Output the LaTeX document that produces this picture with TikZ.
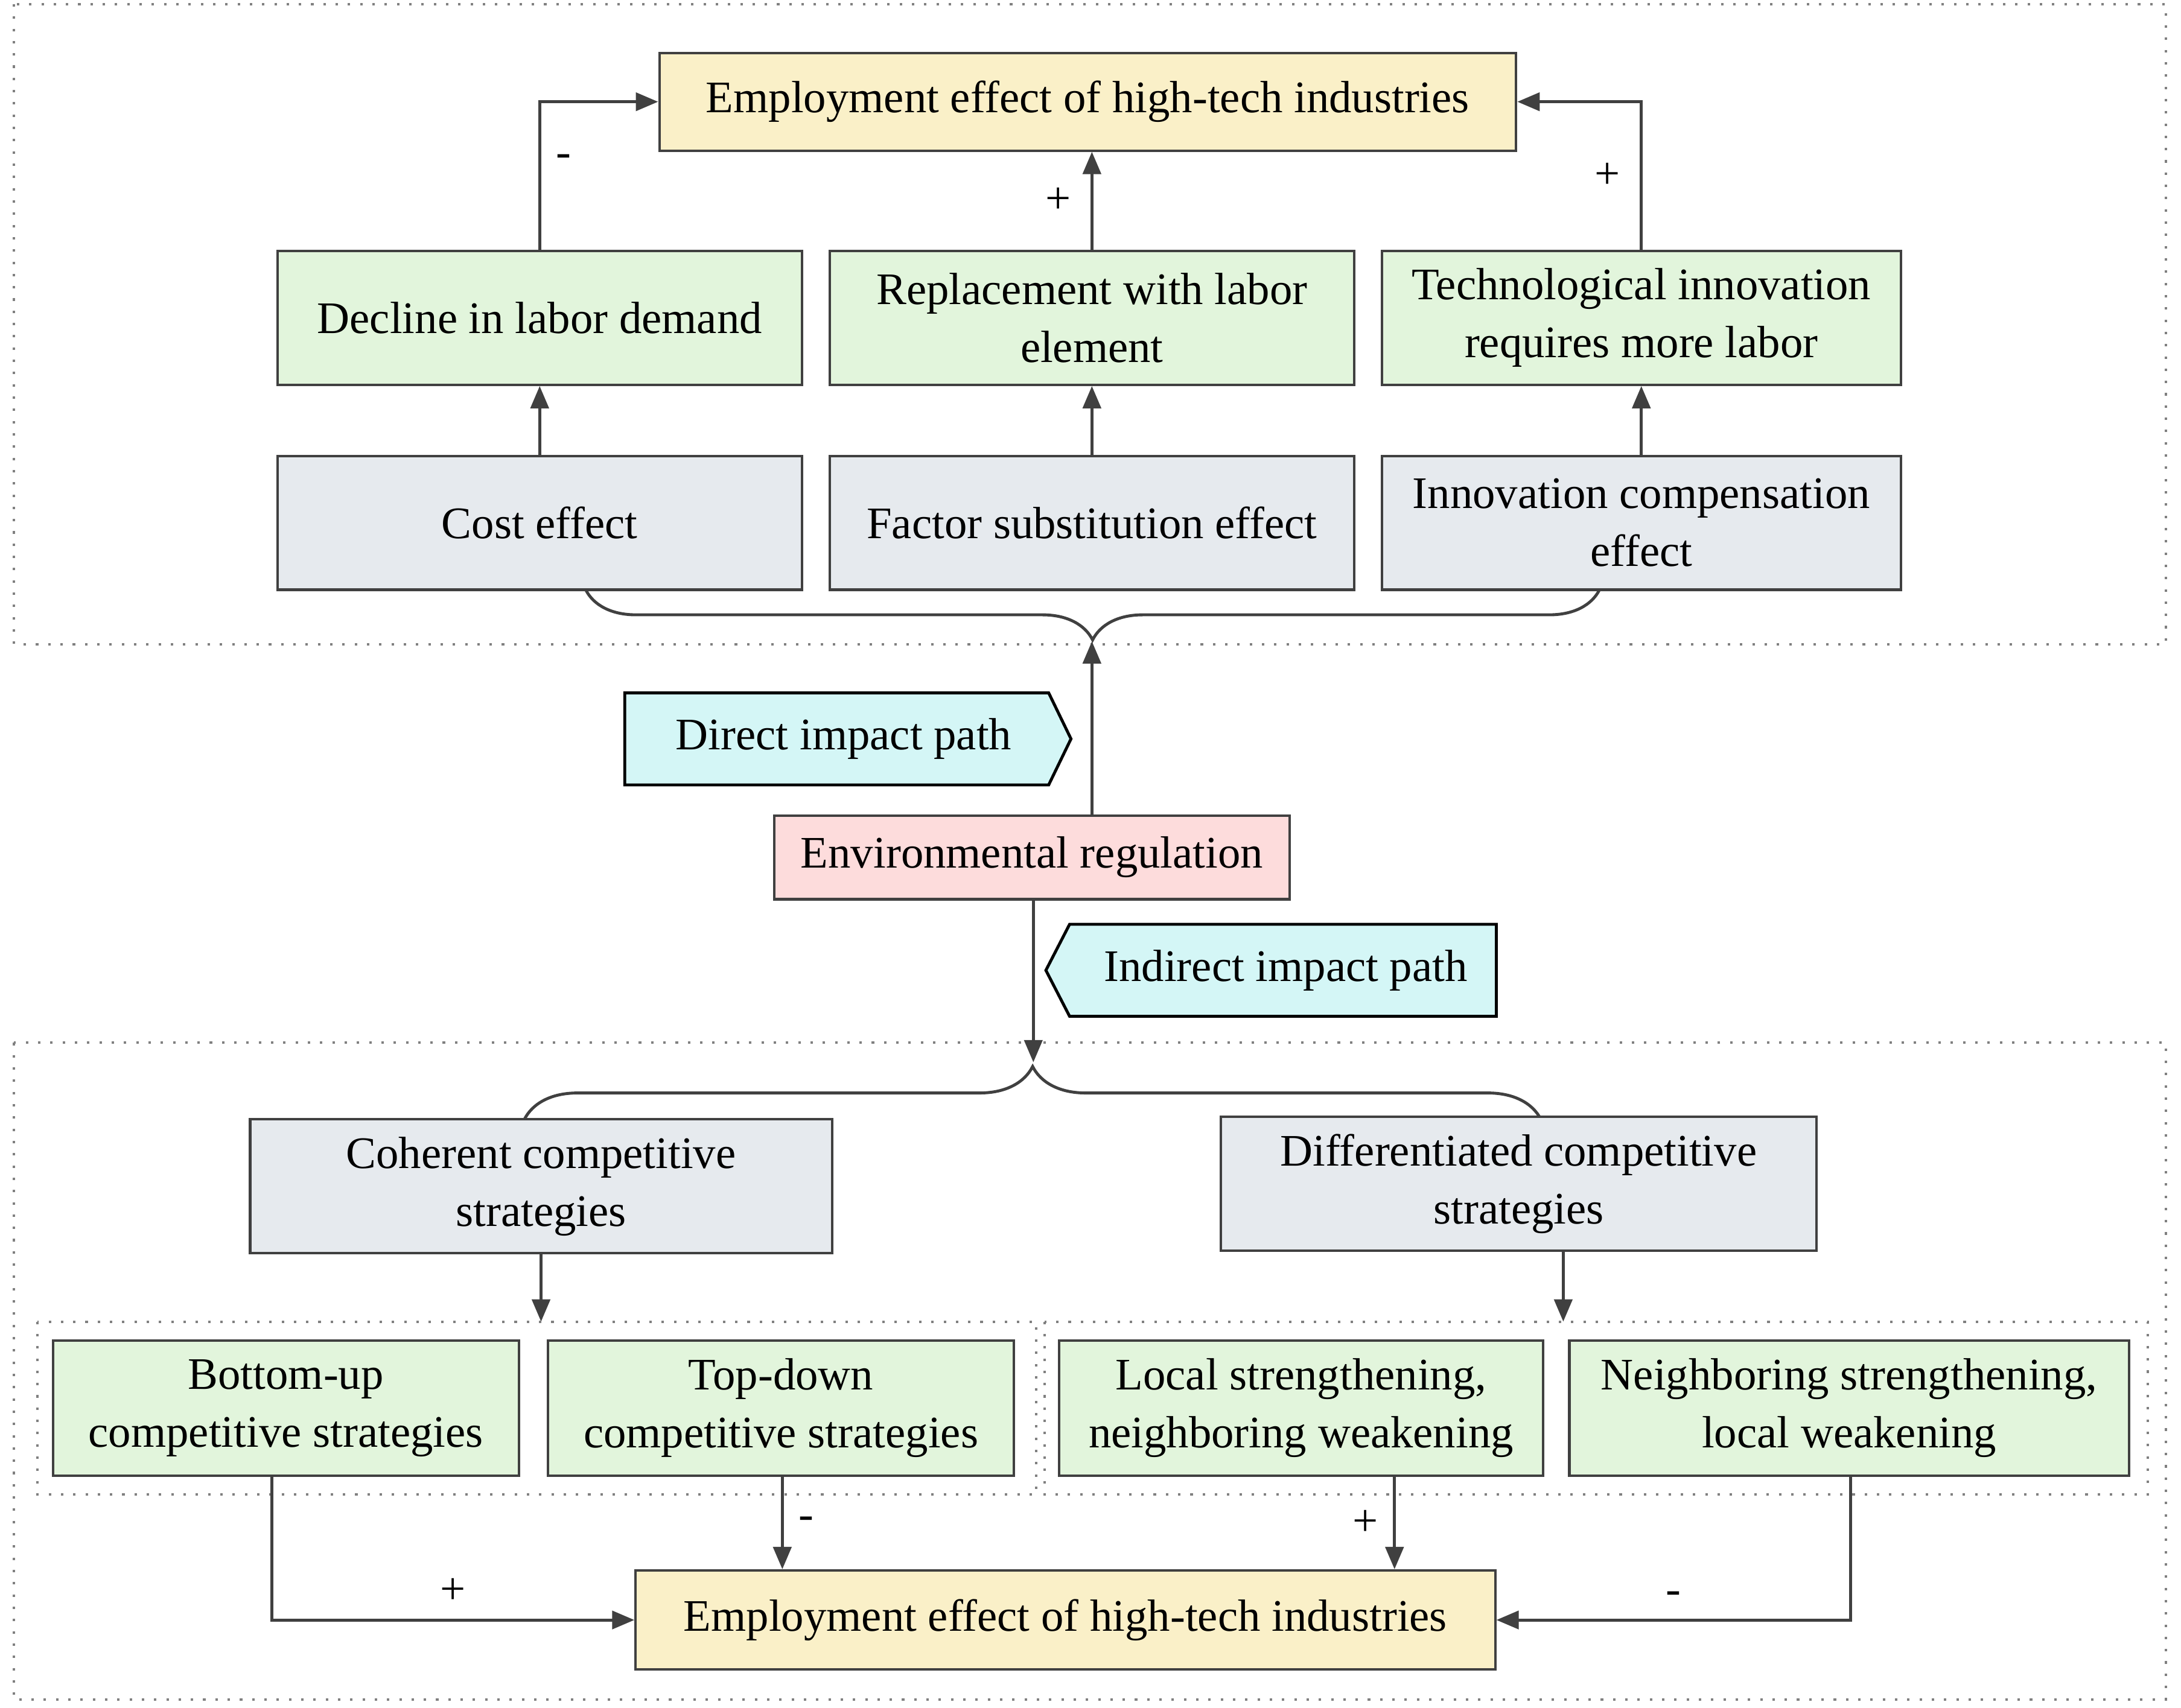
\documentclass[tikz,border=0pt]{standalone}
\usepackage{fontspec}
\setmainfont{Liberation Serif}
\usetikzlibrary{arrows.meta,decorations.pathreplacing}
\definecolor{cyel}{HTML}{FAF0C8}
\definecolor{cgrn}{HTML}{E2F5DC}
\definecolor{cgry}{HTML}{E6EAEE}
\definecolor{cpnk}{HTML}{FDDCDC}
\definecolor{ccyn}{HTML}{D4F6F6}
\definecolor{cline}{HTML}{404040}
\begin{document}
\begin{tikzpicture}[x=0.01cm,y=-0.01cm,
  font=\fontsize{9.2}{11.8}\selectfont,
  box/.style={draw=cline,line width=0.5pt,align=center,inner sep=0pt},
  yb/.style={box,fill=cyel},
  gb/.style={box,fill=cgrn},
  sb/.style={box,fill=cgry},
  arr/.style={draw=cline,line width=0.6pt,-{Triangle[length=1.6mm,width=1.3mm]}},
  ln/.style={draw=cline,line width=0.6pt},
  dot/.style={draw=gray,line width=0.5pt,dotted},
  sign/.style={inner sep=1pt}]
\useasboundingbox (0,0) rectangle (1564,1225);
\draw[dot] (10,3) rectangle (1553,462);
\draw[dot] (10,748) rectangle (1553,1219);
\draw[dot] (27,948) rectangle (743,1072);
\draw[dot] (749,948) rectangle (1540,1072);
% top
\node[yb,minimum width=6.14cm,minimum height=0.70cm] (top) at (780,73) {Employment effect of high-tech industries};
\node[gb,minimum width=3.76cm,minimum height=0.96cm] (g1) at (387,228) {Decline in labor demand};
\node[gb,minimum width=3.76cm,minimum height=0.96cm] (g2) at (783,228) {Replacement with labor\\element};
\node[gb,minimum width=3.72cm,minimum height=0.96cm] (g3) at (1177,228) {Technological innovation\\requires more labor};
\node[sb,minimum width=3.76cm,minimum height=0.96cm] (s1) at (387,375) {Cost effect};
\node[sb,minimum width=3.76cm,minimum height=0.96cm] (s2) at (783,375) {Factor substitution effect};
\node[sb,minimum width=3.72cm,minimum height=0.96cm] (s3) at (1177,375) {Innovation compensation\\effect};
\draw[arr] (s1) -- (g1);
\draw[arr] (s2) -- (g2);
\draw[arr] (s3) -- (g3);
\draw[arr] (g1.north) |- (top.west) node[sign,pos=0.3,right=2pt] {-};
\draw[arr] (g2.north) -- (g2.north |- top.south) node[sign,midway,left=3pt] {+};
\draw[arr] (g3.north) |- (top.east) node[sign,pos=0.25,left=3pt] {+};
\coordinate (b1a) at (420,423);
\coordinate (b1b) at (1147,423);
\draw[ln,decorate,decoration={brace,mirror,amplitude=0.36cm,aspect=0.5}] (b1a) -- (b1b);
\coordinate (b1tip) at (783,460);
% middle
\node[box,fill=cpnk,minimum width=3.69cm,minimum height=0.60cm] (env) at (740,615) {Environmental regulation};
\coordinate (envup) at (783,585);
\draw[arr] (envup) -- (b1tip);
\draw[draw=black,line width=0.6pt,fill=ccyn] (448,497) -- (752,497) -- (768,530) -- (752,563) -- (448,563) -- cycle;
\node (dir) at (605,530) {Direct impact path};
\draw[draw=black,line width=0.6pt,fill=ccyn] (767,663) -- (1073,663) -- (1073,729) -- (767,729) -- (750,696) -- cycle;
\node (ind) at (922,696) {Indirect impact path};
\coordinate (b2tip) at (741,762);
\draw[arr] (env.south -| b2tip) -- (b2tip);
\coordinate (b2a) at (376,803);
\coordinate (b2b) at (1105,803);
\draw[ln,decorate,decoration={brace,amplitude=0.38cm,aspect=0.5}] (b2a) -- (b2b);
% bottom
\node[sb,minimum width=4.17cm,minimum height=0.96cm] (c1) at (388,851) {Coherent competitive\\strategies};
\node[sb,minimum width=4.27cm,minimum height=0.96cm] (c2) at (1089,849) {Differentiated competitive\\strategies};
\coordinate (i1) at (388,948);
\coordinate (i2) at (1121,948);
\draw[arr] (c1) -- (i1);
\draw[arr] (c2.south -| i2) -- (i2);
\node[gb,minimum width=3.34cm,minimum height=0.97cm] (d1) at (205,1010) {Bottom-up\\competitive strategies};
\node[gb,minimum width=3.34cm,minimum height=0.97cm] (d2) at (560,1010) {Top-down\\competitive strategies};
\node[gb,minimum width=3.47cm,minimum height=0.97cm] (d3) at (933,1010) {Local strengthening,\\neighboring weakening};
\node[gb,minimum width=4.01cm,minimum height=0.97cm] (d4) at (1326,1010) {Neighboring strengthening,\\local weakening};
\node[yb,minimum width=6.16cm,minimum height=0.71cm] (bot) at (764,1162) {Employment effect of high-tech industries};
\coordinate (x1) at (195,0);
\coordinate (x2) at (561,0);
\coordinate (x3) at (1000,0);
\coordinate (x4) at (1327,0);
\draw[arr] (d1.south -| x1) |- (bot.west) node[sign,pos=0.75,above=2pt] {+};
\draw[arr] (d2.south -| x2) -- (bot.north -| x2) node[sign,midway,right=2pt] {-};
\draw[arr] (d3.south -| x3) -- (bot.north -| x3) node[sign,midway,left=2pt] {+};
\draw[arr] (d4.south -| x4) |- (bot.east) node[sign,pos=0.75,above=2pt] {-};
\end{tikzpicture}
\end{document}
